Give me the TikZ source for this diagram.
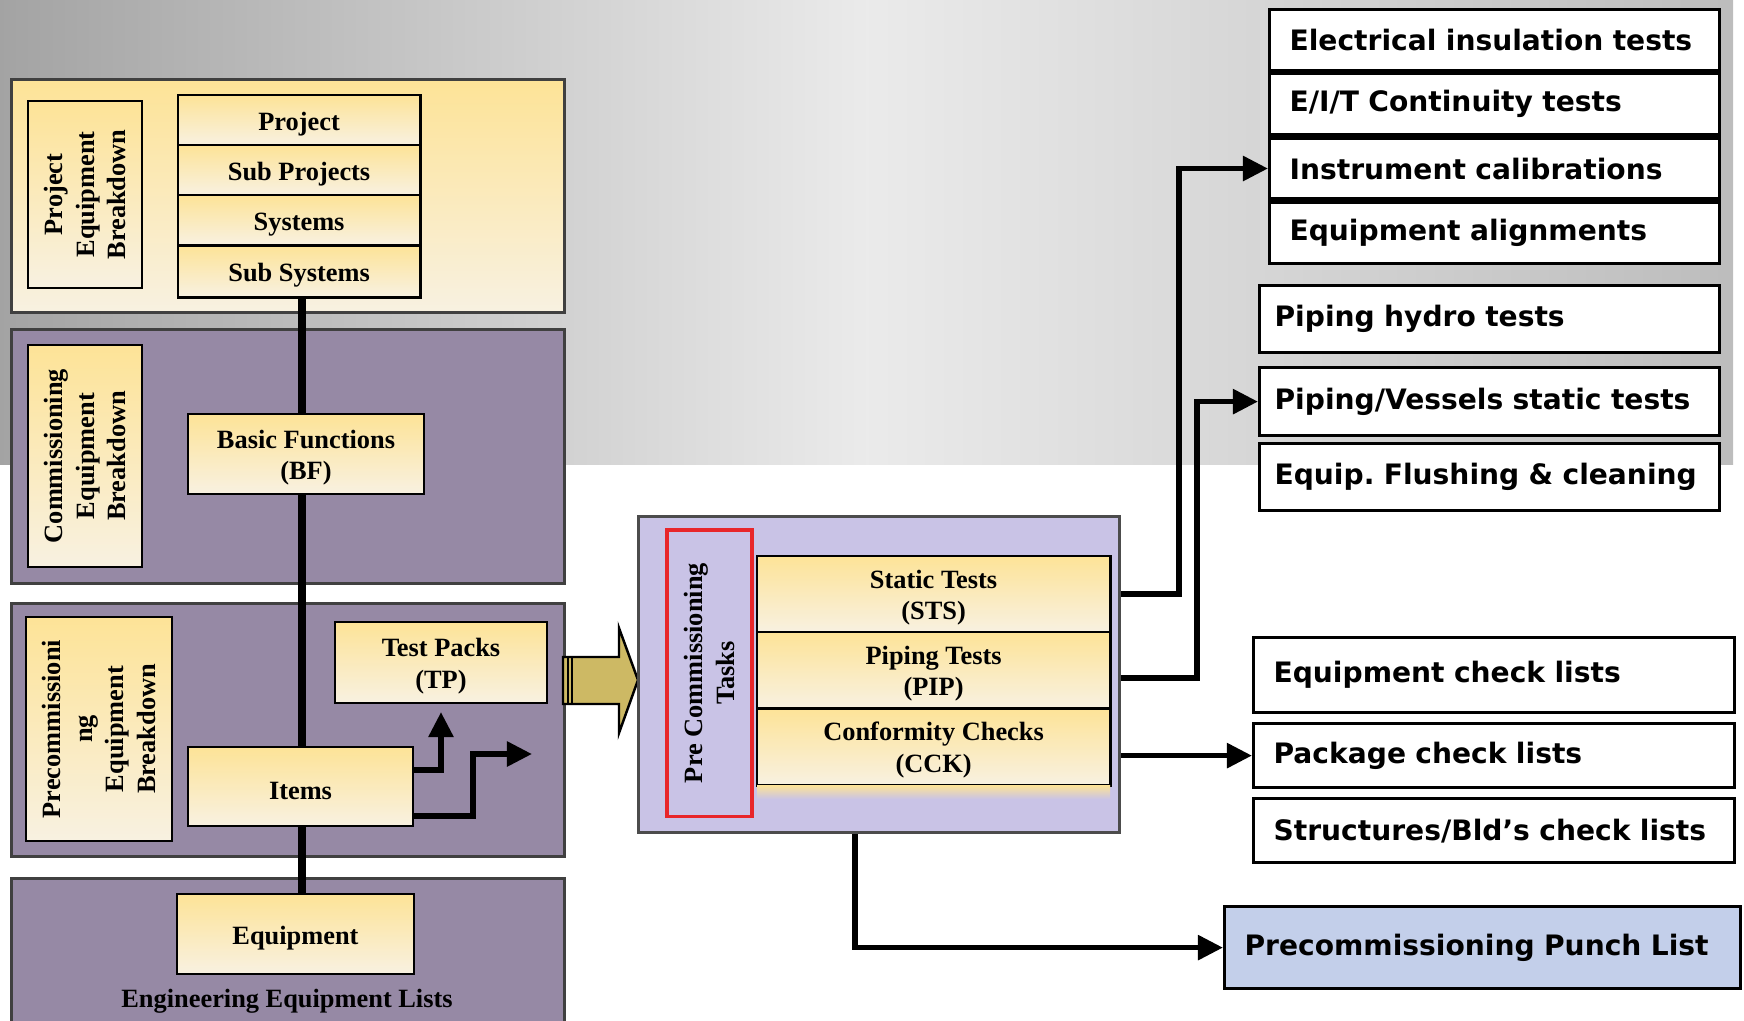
\documentclass[tikz,border=0pt]{standalone}
\usepackage{fontspec}
\setmainfont{Liberation Serif}
\newfontfamily\dejavu{DejaVu Sans}
\usetikzlibrary{arrows.meta, positioning, calc, backgrounds}
\definecolor{pcyellow}{HTML}{FDE397}
\definecolor{pccream}{HTML}{F8F1E1}
\definecolor{pcpurple}{HTML}{9689A5}
\definecolor{pclav}{HTML}{C9C3E6}
\definecolor{pcblue}{HTML}{C3CFEA}
\definecolor{pcgold}{HTML}{CDB964}
\definecolor{pcred}{HTML}{E8262A}

\begin{document}
\begin{tikzpicture}[
    x=0.01cm, y=-0.01cm,
    txt/.style={font=\fontsize{7.5}{9}\selectfont\bfseries, align=center},
    panel/.style={draw=black!75, line width=0.8pt, fill=pcpurple, anchor=north west, inner sep=0pt},
    ybox/.style={draw=black, line width=0.8pt, top color=pcyellow, bottom color=pccream, txt, inner sep=0pt, outer sep=0pt, execute at begin node={\rule{0pt}{7.4pt}}},
    yboxtwo/.style={ybox, execute at begin node={\rule{0pt}{16.2pt}}},
    lblbox/.style={draw=black, line width=0.8pt, rotate=90, top color=pcyellow, bottom color=pccream, txt, inner sep=0pt},
    rbox/.style={draw=black, line width=0.9pt, fill=white, inner xsep=0.2cm, inner ysep=0pt, align=left, anchor=north west, font=\dejavu\bfseries\fontsize{8}{9.6}\selectfont\frenchspacing},
    conn/.style={line width=1.6pt, -{Triangle[length=0.25cm,width=0.24cm]}},
    trunk/.style={line width=2.4pt},
  ]
    \useasboundingbox (0,0) rectangle (1744,1020);

    % backdrop and the four left panels
    \begin{scope}[on background layer]
      \shade[left color=black!36, right color=black!26, middle color=black!8] (0,0) rectangle (1733,464);
      \node[panel, minimum width=5.53cm, minimum height=2.33cm, top color=pcyellow, bottom color=pccream] (peb) at (10,78) {};
      \node[panel, minimum width=5.53cm, minimum height=2.54cm] (ceb) at (10,328) {};
      \node[panel, minimum width=5.53cm, minimum height=2.53cm] (pceb) at (10,602) {};
      \node[panel, minimum width=5.53cm, minimum height=1.6cm] (eel) at (10,877) {};
    \end{scope}

    % project equipment breakdown
    \node[lblbox, minimum width=1.87cm, minimum height=1.14cm] (peblbl) at (85,194.5) {Project\\Equipment\\Breakdown};
    \node[ybox, anchor=north west, minimum width=2.42cm, minimum height=0.50cm] (proj) at (178,95) {Project};
    \node[ybox, below=0pt of proj, minimum width=2.42cm, minimum height=0.50cm] (subp) {Sub Projects};
    \node[ybox, below=0pt of subp, minimum width=2.42cm, minimum height=0.50cm] (sys) {Systems};
    \node[ybox, below=0pt of sys, minimum width=2.42cm, minimum height=0.52cm] (subs) {Sub Systems};

    % commissioning and precommissioning breakdown
    \node[lblbox, minimum width=2.22cm, minimum height=1.14cm] (ceblbl) at (85,456) {Commissioning\\Equipment\\Breakdown};
    \node[yboxtwo, minimum width=2.36cm, minimum height=0.80cm] (bf) at (306,454) {Basic Functions\\(BF)};
    \node[lblbox, minimum width=2.24cm, minimum height=1.46cm] (pceblbl) at (99,729) {Precommissioni\\ng\\Equipment\\Breakdown};
    \node[yboxtwo, minimum width=2.12cm, minimum height=0.81cm] (tp) at (441,662.5) {Test Packs\\(TP)};
    \node[ybox, minimum width=2.25cm, minimum height=0.79cm] (items) at (300.5,786.5) {Items};
    \node[ybox, minimum width=2.37cm, minimum height=0.80cm] (equip) at (295.5,934) {Equipment};
    \node[txt] (eeltxt) at (287,1001) {Engineering Equipment Lists};

    \begin{scope}[on background layer]
      \draw[trunk] (subs.south -| 302,0) -- (equip.north -| 302,0);
    \end{scope}

    \draw[conn, shorten >=0.09cm] (items.east |- 0,770) -| (tp.south);
    \coordinate (itemsout) at (532,754);
    \draw[conn] (items.east |- 0,816) -- (473,816) |- (itemsout);

    % block arrow into the tasks box
    \filldraw[draw=black, line width=0.7pt, fill=pcgold] (563,657) -- (619,657) -- (619,628) -- (638,680) -- (619,733) -- (619,704) -- (563,704) -- cycle;
    \draw[line width=0.5pt] (568,657) -- (568,704) (572,657) -- (572,704);

    % precommissioning tasks
    \node[draw=black!70, line width=0.8pt, fill=pclav, minimum width=4.81cm, minimum height=3.16cm, anchor=north west] (pct) at (637,515) {};
    \node[draw=pcred, line width=0.9pt, fill=pclav, rotate=90, txt, minimum width=2.86cm, minimum height=0.85cm, inner sep=0pt] (pctlbl) at (709.5,673) {Pre Commissioning\\Tasks};
    \node[yboxtwo, anchor=north west, minimum width=3.53cm, minimum height=0.76cm] (sts) at (757,556) {Static Tests\\(STS)};
    \node[yboxtwo, below=0pt of sts, minimum width=3.53cm, minimum height=0.76cm] (pip) {Piping Tests\\(PIP)};
    \node[yboxtwo, below=0pt of pip, minimum width=3.53cm, minimum height=0.77cm] (cck) {Conformity Checks\\(CCK)};
    \shade[top color=pcyellow, bottom color=pclav] (cck.south west) rectangle ($(cck.south east)+(0,14)$);

    % results
    \node[rbox, text width=4.1cm, minimum height=0.61cm] (elec) at (1268,8) {Electrical insulation tests};
    \node[rbox, text width=4.1cm, minimum height=0.61cm, below=0pt of elec] (eit) {E/I/T Continuity tests};
    \node[rbox, text width=4.1cm, minimum height=0.61cm, below=0pt of eit] (instr) {Instrument calibrations};
    \node[rbox, text width=4.1cm, minimum height=0.61cm, below=0pt of instr] (align) {Equipment alignments};
    \node[rbox, text width=4.3cm, inner xsep=0.15cm, minimum height=0.67cm] (hydro) at (1258,284) {Piping hydro tests};
    \node[rbox, text width=4.3cm, inner xsep=0.15cm, minimum height=0.68cm] (pvst) at (1258,366) {Piping/Vessels static tests};
    \node[rbox, text width=4.3cm, inner xsep=0.15cm, minimum height=0.67cm] (flush) at (1258,442) {Equip. Flushing \& cleaning};
    \node[rbox, text width=4.41cm, minimum height=0.75cm] (eqcl) at (1252,636) {Equipment check lists};
    \node[rbox, text width=4.41cm, minimum height=0.64cm] (pkgcl) at (1252,722) {Package check lists};
    \node[rbox, text width=4.41cm, minimum height=0.64cm] (strcl) at (1252,797) {Structures/Bld’s check lists};
    \node[rbox, text width=4.76cm, minimum height=0.82cm, fill=pcblue] (punch) at (1223,905) {Precommissioning Punch List};

    \draw[conn] (pct.east |- sts) -- ++(58,0) |- (instr.west);
    \draw[conn] (pct.east |- 0,678) -- ++(76,0) |- (pvst.west);
    \draw[conn] (pct.east |- pkgcl.west) -- (pkgcl.west);
    \draw[conn] (pct.south -| 855,0) |- (punch.west);
  \end{tikzpicture}
\end{document}
